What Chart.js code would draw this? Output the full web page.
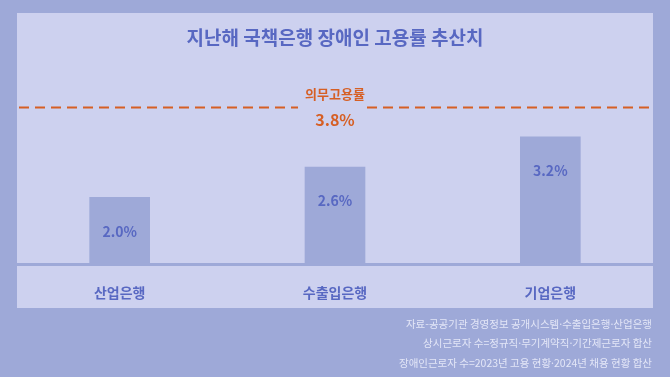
<!DOCTYPE html>
<html lang="ko">
<head>
<meta charset="utf-8">
<script src="https://cdn.jsdelivr.net/npm/chart.js@4"></script>
<style>
  html, body { margin: 0; padding: 0; background: #9ea9d8; }
  canvas { display: block; }
</style>
</head>
<body>
<canvas id="rateChart" width="670" height="377"></canvas>
<script>
// 지난해 국책은행 장애인 고용률 추산치
const banks = ['산업은행', '수출입은행', '기업은행'];
const rates = [2.0, 2.6, 3.2];       // 장애인 고용률 (%)
const mandatoryRate = 3.8;           // 의무고용률 (%)
const titleText = '지난해 국책은행 장애인 고용률 추산치';
const notes = [
  '자료-공공기관 경영정보 공개시스템·수출입은행·산업은행',
  '상시근로자 수=정규직·무기계약직·기간제근로자 합산',
  '장애인근로자 수=2023년 고용 현황·2024년 채용 현황 합산'
];

const FONT = '"Noto Sans CJK KR", "Noto Sans", sans-serif';
const BG = '#9ea9d8';
const PANEL = '#cdd1ef';
const BLUE = '#5868c2';
const ORANGE = '#d65f24';

const decor = {
  id: 'decor',
  beforeDraw(chart) {
    const c = chart.ctx;
    c.save();
    c.fillStyle = BG;
    c.fillRect(0, 0, chart.width, chart.height);
    c.fillStyle = PANEL;
    c.fillRect(17, 13, 636, 295);
    // 기준선
    c.fillStyle = BG;
    c.fillRect(17, 263, 636, 3);
    c.restore();
  },
  afterDatasetsDraw(chart) {
    const c = chart.ctx;
    const x = chart.scales.x;
    const y = chart.scales.y;
    c.save();

    // 제목
    c.fillStyle = BLUE;
    c.textAlign = 'center';
    c.textBaseline = 'middle';
    c.font = `bold 19px ${FONT}`;
    c.fillText(titleText, 335, 38);

    // 의무고용률 점선
    const ly = Math.round(y.getPixelForValue(mandatoryRate)) + 0.5;
    c.strokeStyle = ORANGE;
    c.lineWidth = 2;
    c.setLineDash([10, 6]);
    c.beginPath();
    c.moveTo(19, ly); c.lineTo(298, ly);
    c.moveTo(367, ly); c.lineTo(652, ly);
    c.stroke();
    c.setLineDash([]);
    c.fillStyle = ORANGE;
    c.font = `bold 13px ${FONT}`;
    c.fillText('의무고용률', 335, ly - 13);
    c.font = `bold 16px ${FONT}`;
    c.fillText(mandatoryRate.toFixed(1) + '%', 335, ly + 12);

    // 막대 값
    const meta = chart.getDatasetMeta(0);
    c.fillStyle = BLUE;
    c.font = `bold 14px ${FONT}`;
    meta.data.forEach((bar, i) => {
      c.fillText(rates[i].toFixed(1) + '%', bar.x, bar.y + 34);
    });

    // 은행 이름
    c.font = `bold 14px ${FONT}`;
    banks.forEach((b, i) => {
      c.fillText(b, x.getPixelForValue(i), 293);
    });

    // 출처
    c.fillStyle = '#e3e6f7';
    c.textAlign = 'right';
    c.font = `10.5px ${FONT}`;
    notes.forEach((t, i) => {
      c.fillText(t, 652, 324 + i * 19.5);
    });
    c.restore();
  }
};

new Chart(document.getElementById('rateChart'), {
  type: 'bar',
  data: {
    labels: banks,
    datasets: [{
      data: rates,
      backgroundColor: BG,
      borderWidth: 0,
      barThickness: 60
    }]
  },
  options: {
    responsive: false,
    animation: false,
    layout: { padding: { left: 12, right: 12, top: 46, bottom: 114 } },
    scales: {
      x: { display: false },
      y: { display: false, min: 0.7, max: 5.0 }
    },
    plugins: {
      legend: { display: false },
      tooltip: { enabled: false }
    }
  },
  plugins: [decor]
});
</script>
</body>
</html>
